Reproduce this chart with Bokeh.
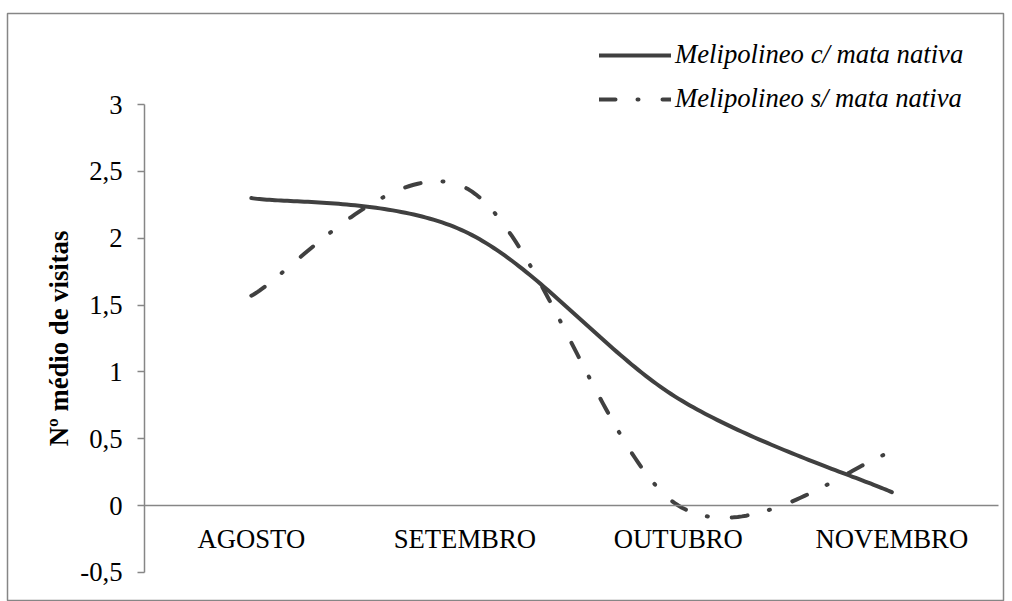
import numpy as np
from bokeh.plotting import figure
from bokeh.models import FixedTicker, Range1d, Legend, LegendItem, LinearAxis
from bokeh.embed import file_html
from bokeh.resources import INLINE

months = ["AGOSTO", "SETEMBRO", "OUTUBRO", "NOVEMBRO"]
com_mata = [2.3, 2.05, 0.8, 0.1]
sem_mata = [1.57, 2.38, 0.0, 0.4]
y_ticks = [-0.5, 0.0, 0.5, 1.0, 1.5, 2.0, 2.5, 3.0]
y_tick_labels = ["-0,5", "0", "0,5", "1", "1,5", "2", "2,5", "3"]
series_names = ["Melipolineo c/ mata nativa", "Melipolineo s/ mata nativa"]

LINE_COLOR = "#404040"
AXIS_COLOR = "#868686"
FONT = "Liberation Serif"
FS = "26.7px"


def smooth(xs, ys, n=60):
    """Excel-style smoothed line (Catmull-Rom Bezier through the data points)."""
    P = np.column_stack([xs, ys]).astype(float)
    ext = np.vstack([P[0], P, P[-1]])
    out = []
    t = np.linspace(0, 1, n)[:, None]
    for i in range(len(P) - 1):
        p0, p1, p2, p3 = ext[i], ext[i + 1], ext[i + 2], ext[i + 3]
        c1 = p1 + (p2 - p0) / 6.0
        c2 = p2 - (p3 - p1) / 6.0
        seg = (1 - t) ** 3 * p1 + 3 * (1 - t) ** 2 * t * c1 + 3 * (1 - t) * t ** 2 * c2 + t ** 3 * p2
        out.append(seg if i == 0 else seg[1:])
    return np.vstack(out)


xs = np.arange(len(months)) + 0.5

p = figure(width=1006, height=601, output_backend="svg", toolbar_location=None,
           x_range=Range1d(-0.642, 4.023), y_range=Range1d(-0.718, 3.681),
           x_axis_location=None, y_axis_location=None, min_border=0)
p.min_border_top = 13
p.min_border_left = 7
p.min_border_right = 3
p.min_border_bottom = 0
p.grid.visible = False
p.outline_line_color = AXIS_COLOR
p.outline_line_width = 1.5
p.background_fill_color = "white"
p.border_fill_color = "white"

# y axis
yax = LinearAxis(fixed_location=0, bounds=(-0.5, 3),
                 ticker=FixedTicker(ticks=y_ticks),
                 major_label_overrides={k: v for k, v in zip(y_ticks, y_tick_labels)})
yax.axis_line_color = AXIS_COLOR
yax.axis_line_width = 1.5
yax.major_tick_line_color = AXIS_COLOR
yax.major_tick_line_width = 1.5
yax.major_tick_out = 7
yax.major_tick_in = 0
yax.minor_tick_line_color = None
yax.major_label_text_font = FONT
yax.major_label_text_font_size = FS
yax.major_label_text_color = "black"
yax.major_label_standoff = 15
yax.axis_label = "Nº médio de visitas"
yax.axis_label_text_font = FONT
yax.axis_label_text_font_size = FS
yax.axis_label_text_font_style = "bold"
yax.axis_label_text_color = "black"
yax.axis_label_standoff = 3
p.add_layout(yax, "left")

# x axis
xax = LinearAxis(fixed_location=0, bounds=(0, 4),
                 ticker=FixedTicker(ticks=list(xs)),
                 major_label_overrides={float(k): v for k, v in zip(xs, months)})
xax.axis_line_color = AXIS_COLOR
xax.axis_line_width = 1.5
xax.major_tick_line_color = None
xax.minor_tick_line_color = None
xax.major_label_text_font = FONT
xax.major_label_text_font_size = FS
xax.major_label_text_color = "black"
xax.major_label_standoff = 12
p.add_layout(xax, "below")

c1 = smooth(xs, com_mata)
c2 = smooth(xs, sem_mata)
r1 = p.line(c1[:, 0], c1[:, 1], line_color=LINE_COLOR, line_width=4, line_cap="round", line_join="round")
r2 = p.line(c2[:, 0], c2[:, 1], line_color=LINE_COLOR, line_width=4, line_cap="round", line_join="round",
            line_dash="16 22 1 24")

legend = Legend(items=[LegendItem(label=series_names[0], renderers=[r1]),
                       LegendItem(label=series_names[1], renderers=[r2])],
                location=(592, 487))
legend.glyph_width = 72
legend.glyph_height = 30
legend.label_height = 30
legend.label_standoff = 4
legend.spacing = 13
legend.padding = 0
legend.margin = 0
legend.border_line_color = None
legend.background_fill_alpha = 0
legend.label_text_font = FONT
legend.label_text_font_size = FS
legend.label_text_font_style = "italic"
legend.label_text_color = "black"
p.add_layout(legend, "center")

open("out.html", "w").write(file_html(p, INLINE))
